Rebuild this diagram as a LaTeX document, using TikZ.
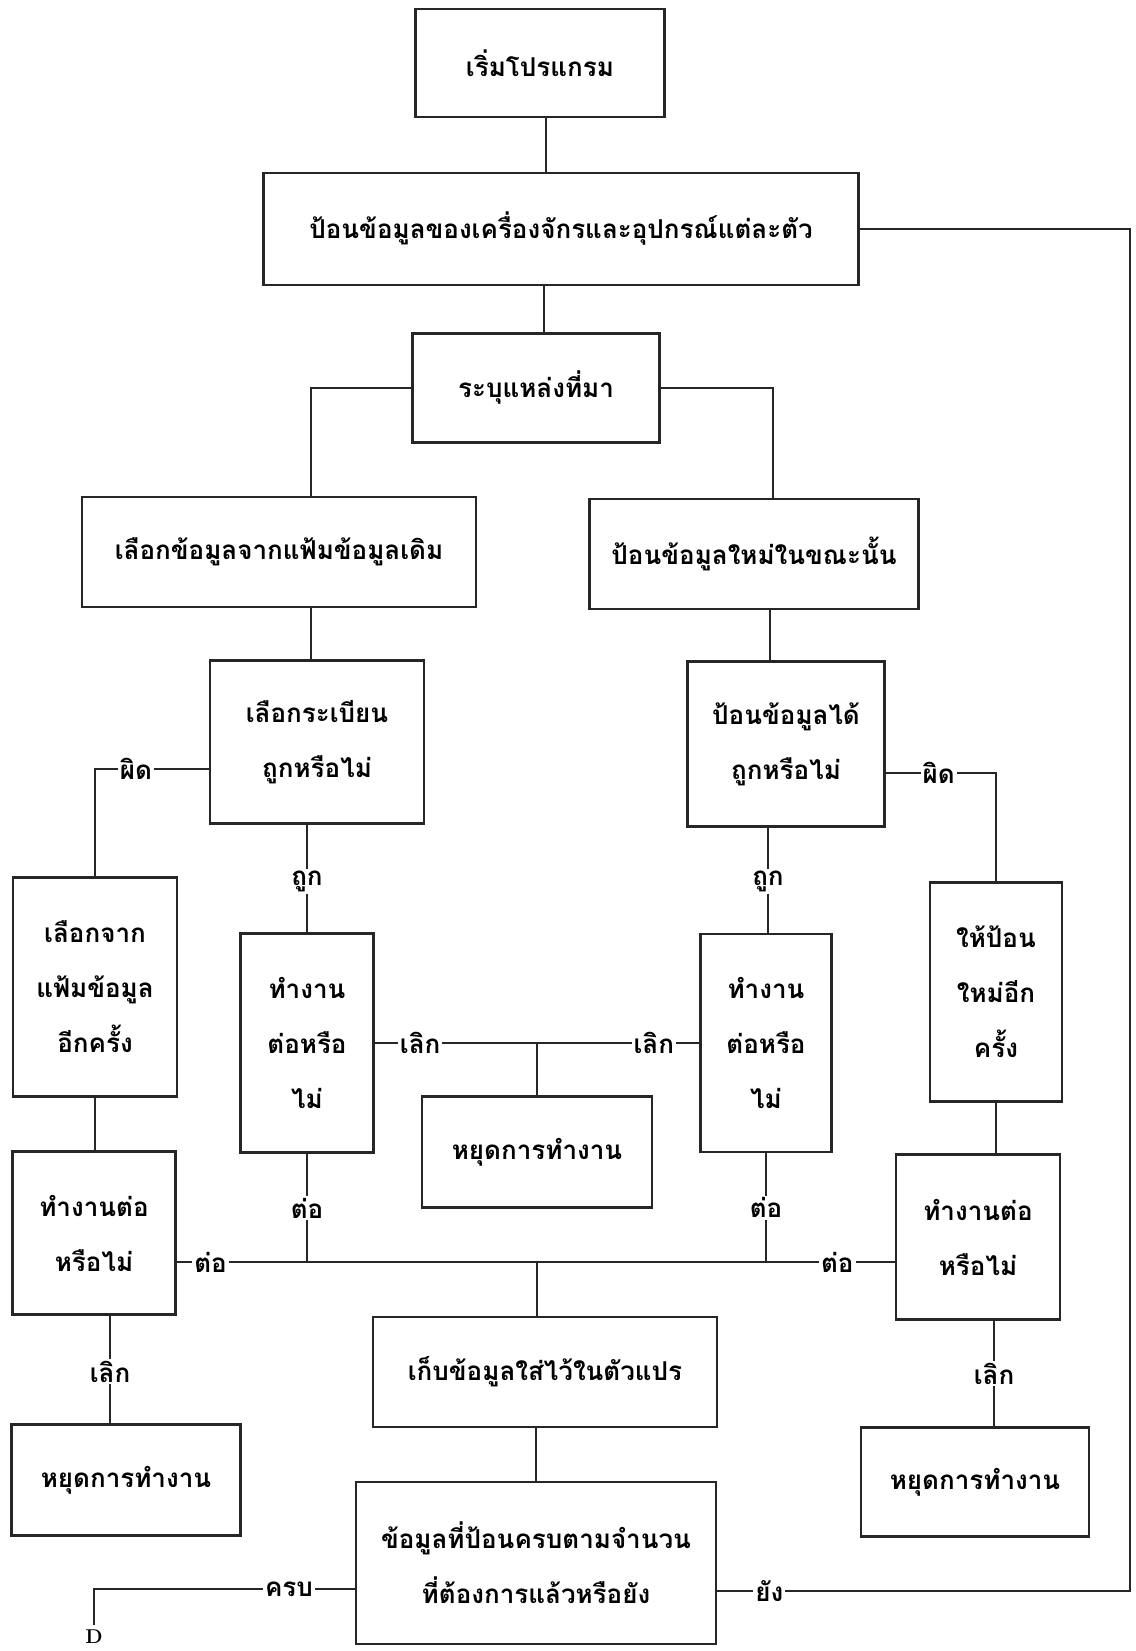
\documentclass[tikz,border=0pt]{standalone}
\usepackage{fontspec}
\newfontfamily\thaifont[Script=Thai]{Loma}
\usepackage{tikz}

\begin{document}
\begin{tikzpicture}[
  x=1pt,
  y=-1pt,
  font=\thaifont\bfseries\fontsize{26}{55}\selectfont,
  link/.style={line width=1.7pt, draw=black!85},
  proc/.style={draw=black!85, line width=2.6pt, align=center, inner sep=0pt},
  tag/.style={fill=white, inner sep=2pt}
]
\useasboundingbox (0,0) rectangle (1135,1651);

% Start, input of machine data and choice of source.
\node[proc, minimum width=249, minimum height=108] (start) at (540,63) {เริ่มโปรแกรม};
\node[proc, minimum width=595, minimum height=112] (input) at (561,229)
  {ป้อนข้อมูลของเครื่องจักรและอุปกรณ์แต่ละตัว};
\node[proc, minimum width=247, minimum height=109] (source) at (536,388) {ระบุแหล่งที่มา};
\draw[link] ([xshift=6]start.south) -- ([xshift=6]start.south |- input.north);
\draw[link] ([xshift=8]source.north |- input.south) -- ([xshift=8]source.north);

% Two branches: old file or new data.
\node[proc, minimum width=394, minimum height=110] (oldfile) at (279,552)
  {เลือกข้อมูลจากแฟ้มข้อมูลเดิม};
\node[proc, minimum width=329, minimum height=110] (newdata) at (754,554)
  {ป้อนข้อมูลใหม่ในขณะนั้น};
\draw[link] (source.west) -| ([xshift=32]oldfile.north);
\draw[link] (source.east) -| ([xshift=19]newdata.north);

\node[proc, minimum width=214, minimum height=163] (chkrec) at (317,742)
  {เลือกระเบียน\\ถูกหรือไม่};
\node[proc, minimum width=197, minimum height=165] (chkin) at (786,744)
  {ป้อนข้อมูลได้\\ถูกหรือไม่};
\draw[link] ([xshift=-6]chkrec.north |- oldfile.south) -- ([xshift=-6]chkrec.north);
\draw[link] ([xshift=-16]chkin.north |- newdata.south) -- ([xshift=-16]chkin.north);

% Wrong answers go round the outside.
\node[proc, minimum width=164, minimum height=219] (again) at (95,987)
  {เลือกจาก\\แฟ้มข้อมูล\\อีกครั้ง};
\node[proc, minimum width=132, minimum height=219] (reinput) at (996,992)
  {ให้ป้อน\\ใหม่อีก\\ครั้ง};
\draw[link] ([yshift=-27]chkrec.west) -| node[tag, pos=0.32] {ผิด} (again.north);
\draw[link] ([yshift=-29]chkin.east) -| node[tag, pos=0.24] {ผิด} (reinput.north);

% Right answers: go on or quit.
\node[proc, minimum width=133, minimum height=219] (contL) at (307,1043)
  {ทำงาน\\ต่อหรือ\\ไม่};
\node[proc, minimum width=131, minimum height=218] (contR) at (766,1043)
  {ทำงาน\\ต่อหรือ\\ไม่};
\node[proc, minimum width=230, minimum height=111] (stopC) at (537,1152) {หยุดการทำงาน};
\draw[link] (contL.north |- chkrec.south) -- node[tag, pos=0.53] {ถูก} (contL.north);
\draw[link] ([xshift=2]contR.north |- chkin.south) -- node[tag, pos=0.51] {ถูก} ([xshift=2]contR.north);
\draw[link] (contL.east) -- node[tag, pos=0.14] {เลิก} node[tag, pos=0.86] {เลิก} (contR.west);
\draw[link] (stopC.north |- contL.east) -- (stopC.north);

\node[proc, minimum width=163, minimum height=163] (contL2) at (94,1233)
  {ทำงานต่อ\\หรือไม่};
\node[proc, minimum width=164, minimum height=165] (contR2) at (978,1237)
  {ทำงานต่อ\\หรือไม่};
\draw[link] (again.south) -- (again.south |- contL2.north);
\draw[link] (reinput.south) -- (reinput.south |- contR2.north);

% Common line into the store step.
\coordinate (busL) at ([yshift=-29]contL2.east);
\coordinate (busR) at ([yshift=-25]contR2.west);
\node[proc, minimum width=344, minimum height=110] (store) at (545,1372)
  {เก็บข้อมูลใส่ไว้ในตัวแปร};
\draw[link] (busL) -- node[tag, pos=0.047] {ต่อ} node[tag, pos=0.92] {ต่อ} (busR);
\draw[link] (contL.south) -- node[tag, pos=0.5] {ต่อ} (contL.south |- busL);
\draw[link] (contR.south) -- node[tag, pos=0.5] {ต่อ} (contR.south |- busL);
\draw[link] (stopC.north |- busL) -- (stopC.north |- store.north);

\node[proc, minimum width=229, minimum height=111] (stopL) at (126,1480) {หยุดการทำงาน};
\node[proc, minimum width=228, minimum height=109] (stopR) at (975,1482) {หยุดการทำงาน};
\draw[link] ([xshift=16]contL2.south) -- node[tag, pos=0.52] {เลิก} ([xshift=16]contL2.south |- stopL.north);
\draw[link] ([xshift=16]contR2.south) -- node[tag, pos=0.5] {เลิก} ([xshift=16]contR2.south |- stopR.north);

% Count check and loop back.
\node[proc, minimum width=360, minimum height=162] (check) at (536,1563)
  {ข้อมูลที่ป้อนครบตามจำนวน\\ที่ต้องการแล้วหรือยัง};
\draw[link] (check.north |- store.south) -- (check.north);
\node[font=\rmfamily\bfseries\fontsize{20}{20}\selectfont, inner sep=0pt, anchor=north] (endD) at (94,1630) {D};
\coordinate (loop) at (1130,229);
\draw[link] ([yshift=-26]check.west) -| node[tag, pos=0.126] {ครบ} ([yshift=5]endD.north);
\draw[link] ([yshift=-28]check.east) -| node[tag, pos=0.063] {ยัง} (loop) -- (input.east);

\end{tikzpicture}
\end{document}
